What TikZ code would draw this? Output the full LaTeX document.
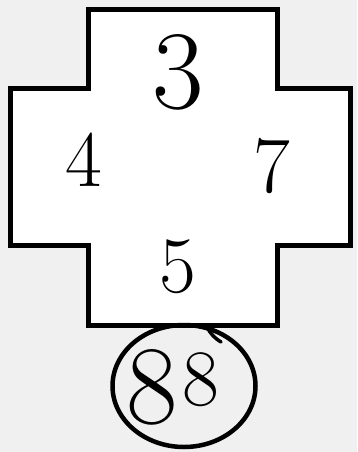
\documentclass[tikz,border=0pt]{standalone}
\usepackage{tikz}
\usetikzlibrary{positioning, shapes.geometric}
\begin{document}
\begin{tikzpicture}[x=1pt, y=-1pt,
    digit/.style={inner sep=0pt, font=\fontsize{80}{80}\selectfont},
    bigdigit/.style={inner sep=0pt, font=\fontsize{112}{112}\selectfont}]
    \fill[black!6] (0,0) rectangle (357,452); % 背景
    \useasboundingbox (0,0) rectangle (357,452);
    % 十字形
    \draw[line width=5pt, fill=white, line join=miter]
        (88,10) -- (277,10) -- (277,88) -- (350,88) -- (350,245) -- (277,245)
        -- (277,325) -- (88,325) -- (88,245) -- (10,245) -- (10,88) -- (88,88) -- cycle;
    \node [bigdigit] (top) at (178,72) {3};
    \node [digit] (left) at (84,160) {4};
    \node [digit] (right) at (272,166) {7};
    \node [digit] (bottom) at (178,267) {5};
    % 下方的圆
    \node [draw, ellipse, line width=4.5pt, minimum width=143pt, minimum height=122pt] (sum) at (184,386) {};
    \draw[line width=3.5pt, line cap=round] (207,327) to[bend right=15] (221,342);
    \node [bigdigit] (eightA) at (152,387) {8};
    \node [digit] (eightB) at (201,380) {8};
\end{tikzpicture}
\end{document}
